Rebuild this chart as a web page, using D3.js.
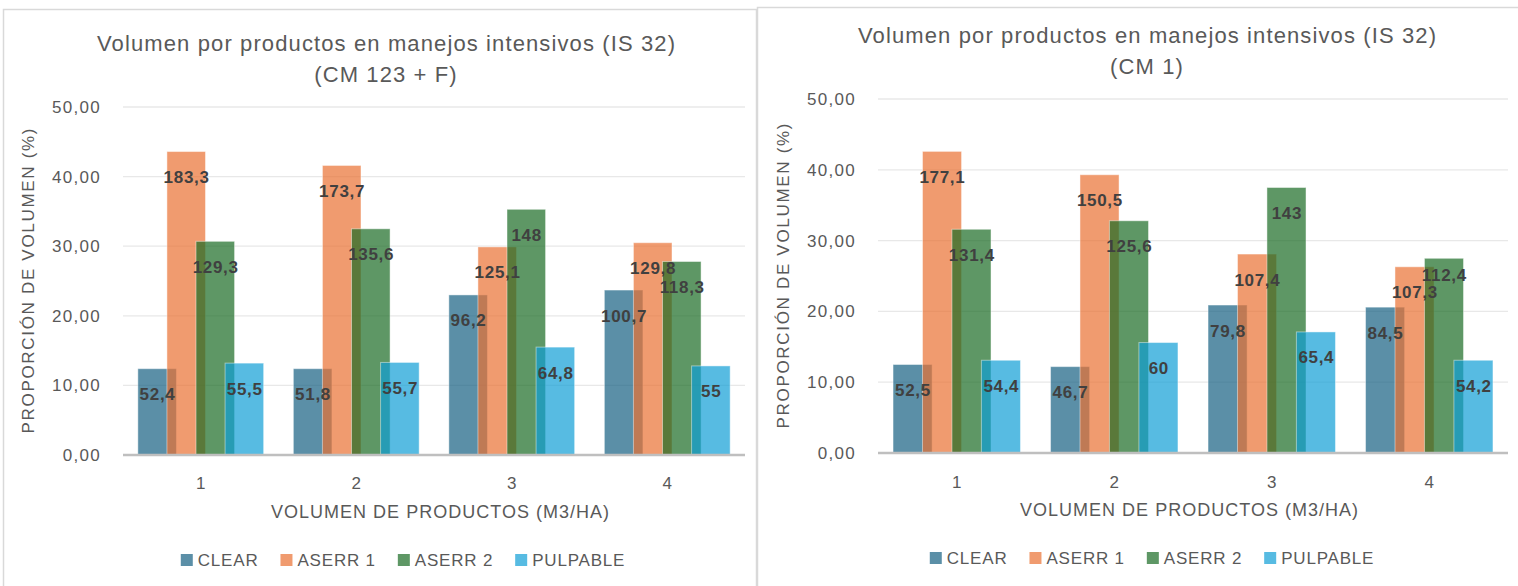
<!DOCTYPE html>
<html><head><meta charset="utf-8">
<script src="https://cdn.jsdelivr.net/npm/d3@7"></script>
<style>
body{margin:0;background:#fff;}
svg{display:block;font-family:"Liberation Sans",Arial,sans-serif;}
</style>
</head><body>
<svg id="c" width="1518" height="586"></svg>
<script>
// ---------- DATA ----------
const categories = ["1", "2", "3", "4"];
const seriesNames = ["CLEAR", "ASERR 1", "ASERR 2", "PULPABLE"];
const seriesColors = ["#156082", "#E97132", "#196B24", "#0F9ED5"];
const yTicks = [0, 10, 20, 30, 40, 50];

// Panel A : (CM 123 + F)  -- bar heights = proportion (%), labels = volume
const titleA = ["Volumen por productos en manejos intensivos (IS 32)", "(CM 123 + F)"];
const pctA_clear  = [12.4, 12.4, 23.0, 23.7];
const pctA_aserr1 = [43.6, 41.6, 29.9, 30.5];
const pctA_aserr2 = [30.7, 32.5, 35.3, 27.8];
const pctA_pulp   = [13.2, 13.3, 15.5, 12.8];
const volA_clear  = [52.4, 51.8, 96.2, 100.7];
const volA_aserr1 = [183.3, 173.7, 125.1, 129.8];
const volA_aserr2 = [129.3, 135.6, 148, 118.3];
const volA_pulp   = [55.5, 55.7, 64.8, 55];

// Panel B : (CM 1)
const titleB = ["Volumen por productos en manejos intensivos (IS 32)", "(CM 1)"];
const pctB_clear  = [12.5, 12.2, 20.9, 20.6];
const pctB_aserr1 = [42.6, 39.3, 28.1, 26.3];
const pctB_aserr2 = [31.6, 32.8, 37.5, 27.5];
const pctB_pulp   = [13.1, 15.6, 17.1, 13.1];
const volB_clear  = [52.5, 46.7, 79.8, 84.5];
const volB_aserr1 = [177.1, 150.5, 107.4, 107.3];
const volB_aserr2 = [131.4, 125.6, 143, 112.4];
const volB_pulp   = [54.4, 60, 65.4, 54.2];

const yAxisTitle = "PROPORCIÓN DE VOLUMEN  (%)";
const xAxisTitle = "VOLUMEN DE PRODUCTOS (M3/HA)";

// ---------- DRAW ----------
const svg = d3.select("#c");
const locale = d3.formatLocale({decimal: ",", thousands: ".", grouping: [3], currency: ["", ""]});
const fmtTick = locale.format(".2f");
const fmtLabel = v => String(v).replace(".", ",");
const TXT = "#595959";

function drawPanel(cfg) {
  const g = svg.append("g");
  g.append("rect")
    .attr("x", cfg.box.x + 0.5).attr("y", cfg.box.y + 0.5)
    .attr("width", cfg.box.w).attr("height", cfg.box.h)
    .attr("fill", "#fff").attr("stroke", "#d9d9d9").attr("stroke-width", 1.5);

  const x = d3.scaleBand().domain(categories).range([cfg.x0, cfg.x1]);
  const y = d3.scaleLinear().domain([0, 50]).range([cfg.y0, cfg.yTop]);
  const bw = x.bandwidth();
  const barW = bw * 0.248, step = bw * 0.187;
  const off = d3.scalePoint().domain(seriesNames).range([-1.5 * step, 1.5 * step]);

  // gridlines
  g.append("g").selectAll("line").data(yTicks.filter(d => d > 0)).join("line")
    .attr("x1", cfg.x0).attr("x2", cfg.x1)
    .attr("y1", d => y(d)).attr("y2", d => y(d))
    .attr("stroke", "#e8e8e8").attr("stroke-width", 1.3);

  // y axis
  const ya = g.append("g").attr("transform", `translate(${cfg.x0},0)`)
    .call(d3.axisLeft(y).tickValues(yTicks).tickFormat(fmtTick).tickSize(0).tickPadding(22));
  ya.select(".domain").remove();
  ya.attr("font-family", null).attr("font-size", 17);
  ya.selectAll("text").attr("fill", TXT).style("letter-spacing", "1.3px");

  // x axis
  const xa = g.append("g").attr("transform", `translate(0,${cfg.y0})`)
    .call(d3.axisBottom(x).tickSize(0));
  xa.select(".domain").remove();
  xa.attr("font-family", null).attr("font-size", 17);
  xa.selectAll("text").attr("fill", TXT).attr("y", cfg.xTickY - cfg.y0).attr("dy", "0.35em");

  // bars
  const rows = [];
  cfg.series.forEach((s, si) => {
    s.pct.forEach((p, ci) => {
      rows.push({s: seriesNames[si], si, ci, cat: categories[ci], pct: p, vol: s.vol[ci], color: seriesColors[si]});
    });
  });
  const cx = d => x(d.cat) + bw / 2 + off(d.s);
  g.append("g").selectAll("rect").data(rows).join("rect")
    .attr("x", d => cx(d) - barW / 2)
    .attr("y", d => y(d.pct))
    .attr("width", barW)
    .attr("height", d => cfg.y0 - y(d.pct))
    .attr("fill", d => d.color).attr("fill-opacity", 0.7)
    .attr("stroke", "#ffffff").attr("stroke-opacity", 0.45).attr("stroke-width", 1);

  // axis line
  g.append("line").attr("x1", cfg.x0).attr("x2", cfg.x1)
    .attr("y1", cfg.y0).attr("y2", cfg.y0)
    .attr("stroke", "#bfbfbf").attr("stroke-width", 2.5);

  // data labels (inside end), with simple collision avoidance between neighbours
  rows.forEach(d => { d.lx = cx(d); d.ly = y(d.pct) + 26; });
  categories.forEach((c, ci) => {
    const r = rows.filter(d => d.ci === ci).sort((a, b) => a.si - b.si);
    for (let i = 0; i < r.length - 1; i++) {
      const a = r[i], b = r[i + 1];
      if (Math.abs(a.ly - b.ly) < 17.7) {
        if (a.ly <= b.ly) a.ly = b.ly - 17.7; else b.ly = a.ly - 17.7;
      }
    }
  });
  g.append("g").selectAll("text").data(rows).join("text")
    .attr("x", d => d.lx + 0.4).attr("y", d => d.ly)
    .attr("text-anchor", "middle").attr("dominant-baseline", "central")
    .attr("font-size", 17).attr("font-weight", "bold").attr("fill", "#404040")
    .style("letter-spacing", "0.7px")
    .text(d => fmtLabel(d.vol));

  // title
  g.append("text").attr("x", cfg.titleX).attr("y", cfg.titleY[0])
    .attr("text-anchor", "middle").attr("font-size", 22).attr("fill", TXT)
    .attr("textLength", 578).attr("lengthAdjust", "spacing")
    .text(cfg.title[0]);
  g.append("text").attr("x", cfg.titleX).attr("y", cfg.titleY[1])
    .attr("text-anchor", "middle").attr("font-size", 22).attr("fill", TXT)
    .style("letter-spacing", "1.1px")
    .text(cfg.title[1]);

  // y axis title
  g.append("text")
    .attr("transform", `translate(${cfg.yTitleX},${(cfg.y0 + cfg.yTop) / 2}) rotate(-90)`)
    .attr("text-anchor", "middle").attr("dominant-baseline", "central")
    .attr("font-size", 17).attr("fill", TXT)
    .attr("textLength", 305).attr("lengthAdjust", "spacing")
    .text(yAxisTitle);

  // x axis title
  g.append("text").attr("x", cfg.xTitleX).attr("y", cfg.xTitleY)
    .attr("text-anchor", "middle").attr("dominant-baseline", "central")
    .attr("font-size", 18).attr("fill", TXT)
    .attr("textLength", 338).attr("lengthAdjust", "spacing")
    .text(xAxisTitle);

  // legend
  const lg = g.append("g");
  const items = lg.selectAll("g").data(seriesNames).join("g");
  items.append("rect").attr("width", 12).attr("height", 12).attr("y", -6)
    .attr("fill", (d, i) => seriesColors[i]).attr("fill-opacity", 0.7);
  items.append("text").attr("x", 17).attr("dominant-baseline", "central")
    .attr("font-size", 17).attr("fill", TXT).style("letter-spacing", "0.8px")
    .text(d => d);
  const widths = [];
  items.each(function() {
    widths.push(17 + this.querySelector("text").getComputedTextLength());
  });
  const gap = 22;
  const total = d3.sum(widths) + gap * (widths.length - 1);
  let start = cfg.legendCX - total / 2;
  items.attr("transform", (d, i) => {
    const t = `translate(${start},${cfg.legendY})`;
    start += widths[i] + gap;
    return t;
  });
}

drawPanel({
  box: {x: 3, y: 9, w: 753, h: 620},
  x0: 123, x1: 745, y0: 455, yTop: 107,
  title: titleA, titleX: 386, titleY: [51, 82],
  yTitleX: 28, xTickY: 483, xTitleX: 440, xTitleY: 512,
  legendCX: 403, legendY: 560,
  series: [
    {pct: pctA_clear, vol: volA_clear},
    {pct: pctA_aserr1, vol: volA_aserr1},
    {pct: pctA_aserr2, vol: volA_aserr2},
    {pct: pctA_pulp, vol: volA_pulp}
  ]
});

drawPanel({
  box: {x: 757, y: 7, w: 800, h: 620},
  x0: 878, x1: 1508, y0: 453, yTop: 99,
  title: titleB, titleX: 1147, titleY: [43, 74],
  yTitleX: 783, xTickY: 482, xTitleX: 1189, xTitleY: 510,
  legendCX: 1152, legendY: 558,
  series: [
    {pct: pctB_clear, vol: volB_clear},
    {pct: pctB_aserr1, vol: volB_aserr1},
    {pct: pctB_aserr2, vol: volB_aserr2},
    {pct: pctB_pulp, vol: volB_pulp}
  ]
});
</script>
</body></html>
